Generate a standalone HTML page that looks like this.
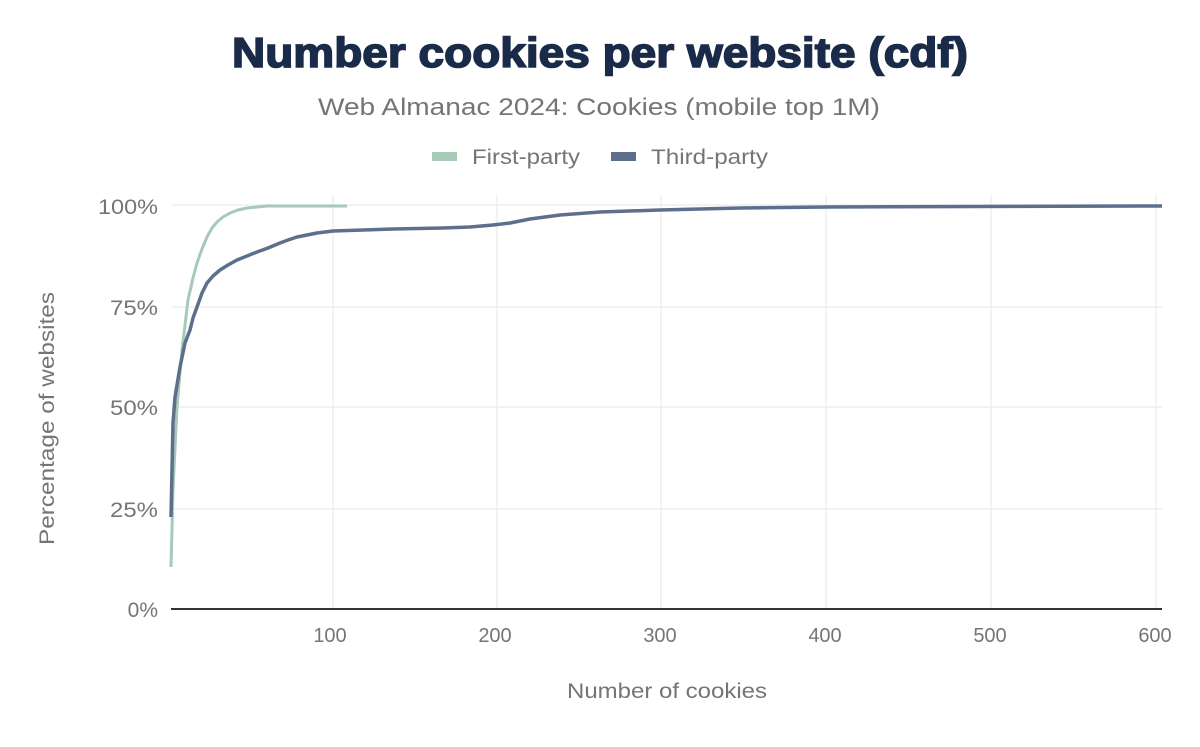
<!DOCTYPE html>
<html><head><style>
body{margin:0;background:#fff;width:1200px;height:742px;overflow:hidden;font-family:"Liberation Sans",sans-serif}
</style></head><body>
<svg width="1200" height="742" xmlns="http://www.w3.org/2000/svg" font-family="Liberation Sans, sans-serif">
<text x="232" y="67" textLength="736" lengthAdjust="spacingAndGlyphs" font-size="42" font-weight="900" fill="#1a2b49" stroke="#1a2b49" stroke-width="1.6">Number cookies per website (cdf)</text>
<text x="318" y="115" textLength="562" lengthAdjust="spacingAndGlyphs" font-size="24" fill="#757575">Web Almanac 2024: Cookies (mobile top 1M)</text>
<rect x="432" y="152" width="25" height="9" fill="#a6c9b8"/>
<text x="472" y="164" textLength="108" lengthAdjust="spacingAndGlyphs" font-size="21" fill="#757575">First-party</text>
<rect x="611" y="152" width="25" height="9" fill="#5d6f8c"/>
<text x="651" y="164" textLength="117" lengthAdjust="spacingAndGlyphs" font-size="21" fill="#757575">Third-party</text>
<g stroke="#eeeeee" stroke-width="1.5">
<line x1="172" y1="205" x2="1162" y2="205"/><line x1="172" y1="307" x2="1162" y2="307"/>
<line x1="172" y1="407" x2="1162" y2="407"/><line x1="172" y1="509" x2="1162" y2="509"/>
<line x1="333" y1="195" x2="333" y2="608"/><line x1="497" y1="195" x2="497" y2="608"/>
<line x1="661" y1="195" x2="661" y2="608"/><line x1="826" y1="195" x2="826" y2="608"/>
<line x1="991" y1="195" x2="991" y2="608"/><line x1="1156" y1="195" x2="1156" y2="608"/>
</g>
<line x1="171" y1="609" x2="1162" y2="609" stroke="#333" stroke-width="2"/>
<g font-size="21" fill="#757575" text-anchor="end">
<text x="158" y="214" textLength="60" lengthAdjust="spacingAndGlyphs">100%</text><text x="158" y="315" textLength="48" lengthAdjust="spacingAndGlyphs">75%</text><text x="158" y="415" textLength="48" lengthAdjust="spacingAndGlyphs">50%</text><text x="158" y="517" textLength="48" lengthAdjust="spacingAndGlyphs">25%</text><text x="158" y="617">0%</text>
</g>
<g font-size="20" fill="#757575" text-anchor="middle">
<text x="330" y="642">100</text><text x="495" y="642">200</text><text x="660" y="642">300</text><text x="825" y="642">400</text><text x="990" y="642">500</text><text x="1155" y="642">600</text>
</g>
<text x="567" y="698" textLength="200" lengthAdjust="spacingAndGlyphs" font-size="21" fill="#757575">Number of cookies</text>
<text transform="translate(54,545) rotate(-90)" textLength="253" lengthAdjust="spacingAndGlyphs" font-size="21" fill="#757575">Percentage of websites</text>
<polyline fill="none" stroke="#a6c9b8" stroke-width="3" stroke-linejoin="round" points="171,567 173,490 177,407 182,350 188,300 193,278 197,263 202,249 207,237 212,228 217,222 223,217 230,213 238,210 247,208 257,207 267,206 347,206"/>
<polyline fill="none" stroke="#5d6f8c" stroke-width="3.5" stroke-linejoin="round" points="171,517 173,423 175,397 180,367 185,343 190,330 193,318 197,307 202,293 207,283 213,276 220,270 228,265 237,260 247,256 257,252 268,248 280,243 288,240 297,237 307,235 317,233 333,231 393,229 443,228 470,227 493,225 510,223 530,219 560,215 600,212 660,210 740,208 825,207 1162,206"/>
</svg>
</body></html>
